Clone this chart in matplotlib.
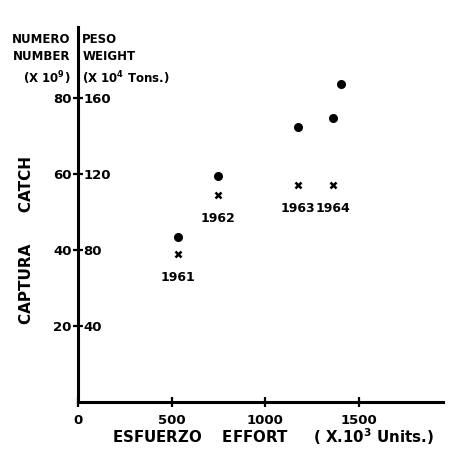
# Catch vs. effort, 1961-1964 (numero / peso)

import matplotlib.pyplot as plt

# ------------------------------------------------------------
# data
# ------------------------------------------------------------
years = ["1961", "1962", "1963", "1964"]
effort = [534, 747, 1174, 1364]            # x 10^3 units
catch_number = [43.5, 59.5, 72.4, 74.7]    # x 10^9  (dots)
catch_weight = [78, 109, 114, 114]         # x 10^4 tons (crosses)
extra_effort = [1405]
extra_number = [83.7]

x_ticks = [0, 500, 1000, 1500]
num_ticks = [20, 40, 60, 80]
wt_ticks = [40, 80, 120, 160]

plt.rcParams["font.family"] = "DejaVu Sans"
plt.rcParams["font.weight"] = "bold"

fig = plt.figure(figsize=(4.5, 4.53), dpi=100)
ax = fig.add_axes([0.1733, 0.1126, 0.811, 0.828])
ax2 = ax.twinx()

ymax = 98.7
ax.set_xlim(0, 1950)
ax.set_ylim(0, ymax)
ax2.set_ylim(0, ymax * 2)

# points
ax.plot(effort, catch_number, "o", color="black", ms=5.5)
ax.plot(extra_effort, extra_number, "o", color="black", ms=5.5)
ax2.plot(effort, catch_weight, "x", color="black", ms=5, mew=1.8)
for x, w, yr in zip(effort, catch_weight, years):
    ax2.annotate(yr, (x, w), xytext=(0, -17), textcoords="offset points",
                 ha="center", va="center", fontsize=9, fontweight="bold")

# axes styling
for a in (ax, ax2):
    for s in ("top", "right"):
        a.spines[s].set_visible(False)
ax2.spines["left"].set_visible(False)
ax2.spines["right"].set_visible(True)
ax2.spines["right"].set_position(("axes", 0))
ax2.spines["right"].set_linewidth(0)
ax.spines["left"].set_linewidth(2.2)
ax.spines["bottom"].set_linewidth(2.2)

ax.set_xticks(x_ticks)
ax.set_yticks(num_ticks)
ax2.set_yticks(wt_ticks)
ax.tick_params(axis="both", direction="inout", length=7, width=1.6,
               labelsize=9.5, pad=2)
ax.tick_params(axis="x", pad=5)
ax2.tick_params(axis="y", direction="inout", length=0, labelsize=9.5, pad=4)
ax.tick_params(axis="y", pad=1)

# headers above the two scales
ax.text(-0.02, 0.985, "NUMERO\nNUMBER\n(X 10$^{\\mathbf{9}}$)", transform=ax.transAxes,
        ha="right", va="top", fontsize=8.5, fontweight="bold", linespacing=1.45)
ax.text(0.012, 0.985, "PESO\nWEIGHT\n(X 10$^{\\mathbf{4}}$ Tons.)", transform=ax.transAxes,
        ha="left", va="top", fontsize=8.5, fontweight="bold", linespacing=1.45)

ax.set_ylabel("CAPTURA      CATCH", fontsize=11, fontweight="bold")
ax.yaxis.set_label_coords(-0.12, 0.432)
ax.set_xlabel("ESFUERZO    EFFORT     ( X.10$^{\\mathbf{3}}$ Units.)", fontsize=10.8,
              fontweight="bold")
ax.xaxis.set_label_coords(0.535, -0.065)

fig.savefig("out.png", dpi=100)
